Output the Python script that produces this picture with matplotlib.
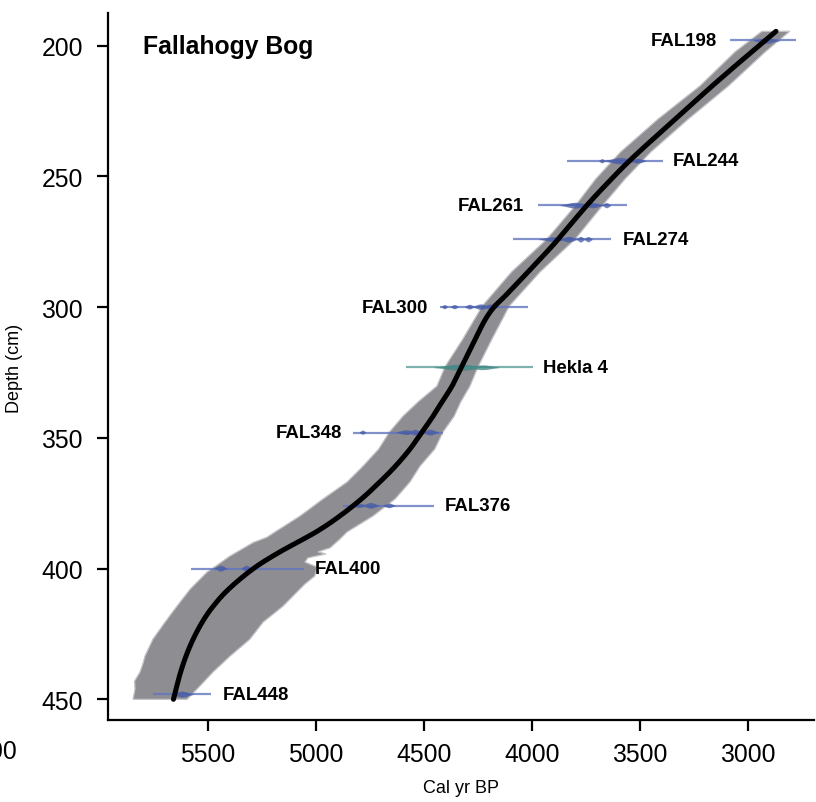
import numpy as np
import matplotlib
matplotlib.use("Agg")
import matplotlib.pyplot as plt

plt.rcParams['font.family'] = ['Liberation Sans', 'DejaVu Sans']

# ---- age-depth model (mean) ----
mean_depth = [194.5, 205.0, 215.0, 225.0, 235.0, 244.0, 251.0, 261.0, 274.0, 281.6,
              288.0, 295.0, 299.6, 305.0, 312.2, 322.9, 330.2, 336.3, 341.7, 347.8,
              354.3, 360.8, 366.9, 373.4, 379.9, 386.0, 393.5, 400.0, 407.9, 414.6,
              420.5, 427.2, 433.5, 439.9, 446.1, 450.0]
mean_age = [2870, 3020, 3160, 3295, 3430, 3548, 3632, 3745, 3878, 3962,
            4035, 4115, 4172, 4218, 4262, 4326, 4370, 4417, 4458, 4509,
            4565, 4632, 4705, 4790, 4890, 5000, 5165, 5290, 5405, 5478,
            5527, 5570, 5602, 5628, 5648, 5660]

# ---- envelope edges ----
old_depth = [194.5, 202.4, 215.4, 228.0, 240.7, 251.0, 261.3, 274.0, 286.6, 299.6,
             312.2, 322.9, 330.2, 336.3, 341.7, 347.8, 354.3, 360.8, 366.9, 373.4,
             379.9, 386.0, 388.0, 390.0, 395.2, 401.4, 407.9, 414.4, 420.5, 427.0,
             433.5, 436.0, 439.6, 443.0, 446.1, 450.0]
old_age = [2935, 3060, 3222, 3415, 3590, 3705, 3800, 3931, 4095, 4230,
           4320, 4403, 4440, 4528, 4597, 4660, 4710, 4782, 4856, 4968,
           5074, 5190, 5227, 5290, 5398, 5505, 5583, 5644, 5699, 5755,
           5792, 5800, 5815, 5840, 5838, 5847]

young_depth = [194.5, 202.4, 215.4, 228.0, 240.7, 251.0, 261.3, 274.0, 286.6, 299.6,
               312.2, 322.9, 330.2, 336.3, 341.7, 347.8, 354.3, 360.8, 366.9, 373.4,
               379.9, 386.0, 388.7, 392.1, 393.6, 394.4, 395.9, 397.5, 399.4, 402.8,
               405.9, 414.4, 420.5, 427.0, 433.5, 439.6, 446.1, 450.0]
young_age = [2806, 2920, 3090, 3275, 3450, 3569, 3675, 3800, 3963, 4105,
             4185, 4250, 4287, 4330, 4360, 4412, 4450, 4518, 4565, 4634,
             4736, 4856, 4889, 4935, 4991, 4954, 5037, 5051, 4995, 5005,
             5051, 5153, 5245, 5306, 5398, 5477, 5551, 5597]

# ---- dated levels ----
labels = ['FAL198', 'FAL244', 'FAL261', 'FAL274', 'FAL300', 'Hekla 4',
          'FAL348', 'FAL376', 'FAL400', 'FAL448']
depths = [198, 244, 261, 274, 300, 323, 348, 376, 400, 448]
range_old = [3083, 3838, 3972, 4088, 4426, 4583, 4829, 4875, 5579, 5755]
range_young = [2778, 3394, 3560, 3634, 4019, 3995, 4412, 4454, 5056, 5486]
peak_ages = [[2915], [3676, 3590, 3510], [3800, 3720, 3655], [3900, 3830, 3775, 3740],
             [4403, 4357, 4287, 4235, 4190], [4330, 4230], [4782, 4580, 4540, 4470],
             [4800, 4745, 4660], [5440, 5320], [5620]]
peak_spread = [[30], [8, 40, 20], [35, 25, 10], [35, 20, 10, 10],
               [8, 10, 12, 20, 20], [60, 40], [8, 25, 15, 20],
               [20, 20, 15], [15, 12], [25]]
peak_height = [[1.1], [0.8, 1.2, 0.9], [1.1, 1.0, 1.0], [0.9, 1.1, 1.1, 1.0],
               [0.8, 0.8, 0.9, 1.05, 1.0], [1.2, 0.9], [0.8, 0.9, 1.1, 1.1],
               [0.8, 1.1, 0.9], [1.15, 1.15], [1.15]]
label_age = [3144, 3347, 4037, 3579, 4481, 3949, 4880, 4403, 5005, 5431]
label_left = [True, False, True, False, True, False, True, False, False, False]


def catmull_rom(xs, ys, n=12):
    """Smooth drawing path through the given points."""
    p = np.column_stack([xs, ys]).astype(float)
    p = np.vstack([p[0], p, p[-1]])
    out = []
    u = np.linspace(0, 1, n, endpoint=False)[:, None]
    for k in range(1, len(p) - 2):
        p0, p1, p2, p3 = p[k - 1], p[k], p[k + 1], p[k + 2]
        seg = 0.5 * ((2 * p1) + (-p0 + p2) * u + (2 * p0 - 5 * p1 + 4 * p2 - p3) * u ** 2
                     + (-p0 + 3 * p1 - 3 * p2 + p3) * u ** 3)
        out.append(seg)
    out.append(p[-2][None, :])
    out = np.vstack(out)
    return out[:, 0], out[:, 1]


W, H = 816, 803
fig = plt.figure(figsize=(W / 100, H / 100), dpi=100)
ax = fig.add_axes([108 / W, 1 - 721 / H, (814 - 108) / W, (721 - 14) / H])

# envelope
poly_x = np.concatenate([old_age, young_age[::-1]])
poly_y = np.concatenate([old_depth, young_depth[::-1]])
ax.fill(poly_x, poly_y, facecolor='#8e8d92', edgecolor='#c4c4c8', lw=0.9, zorder=1)

# dates
for i in range(len(labels)):
    d = depths[i]
    hek = labels[i].startswith('Hekla')
    lc = '#5f9e9b' if hek else '#6076c0'
    bc = '#3c8581' if hek else '#4459a6'
    ax.plot([range_old[i], range_young[i]], [d, d], color=lc, lw=1.6, alpha=0.8,
            solid_capstyle='butt', zorder=3)
    t = np.linspace(range_young[i], range_old[i], 400)
    thick = np.zeros_like(t)
    for a, s, h in zip(peak_ages[i], peak_spread[i], peak_height[i]):
        thick = np.maximum(thick, h * np.exp(-0.5 * ((t - a) / s) ** 2))
    ax.fill_between(t, d - thick, d + thick, where=thick > 0.15, color=bc,
                    alpha=0.75, lw=0, zorder=3)
    ax.text(label_age[i], d, labels[i], ha='right' if label_left[i] else 'left',
            va='center', fontsize=13.4, fontweight='bold', zorder=5)

# mean line
mx, my = catmull_rom(mean_age, mean_depth)
ax.plot(mx, my, color='black', lw=3.6, solid_capstyle='round', zorder=4)

ax.set_xlim(5963, 2694)
ax.set_ylim(457.9, 187.5)
ax.set_xticks([5500, 5000, 4500, 4000, 3500, 3000])
ax.set_yticks([200, 250, 300, 350, 400, 450])
for s in ['top', 'right']:
    ax.spines[s].set_visible(False)
for s in ['left', 'bottom']:
    ax.spines[s].set_linewidth(1.6)
ax.tick_params(axis='both', length=8, width=1.6, labelsize=17.8)
ax.tick_params(axis='x', pad=8)
ax.tick_params(axis='y', pad=10)

ax.text(0.05, 0.97, 'Fallahogy Bog', transform=ax.transAxes, ha='left', va='top',
        fontsize=17.8, fontweight='bold')

fig.text(15 / W, 1 - 368 / H, 'Depth (cm)', rotation=90, ha='center', va='center',
         fontsize=13)
fig.text(461 / W, 1 - 789 / H, 'Cal yr BP', ha='center', va='center', fontsize=13)
fig.text(17 / W, 1 - 752 / H, '00', ha='right', va='center', fontsize=17.8)

fig.savefig('out.png', dpi=100)
